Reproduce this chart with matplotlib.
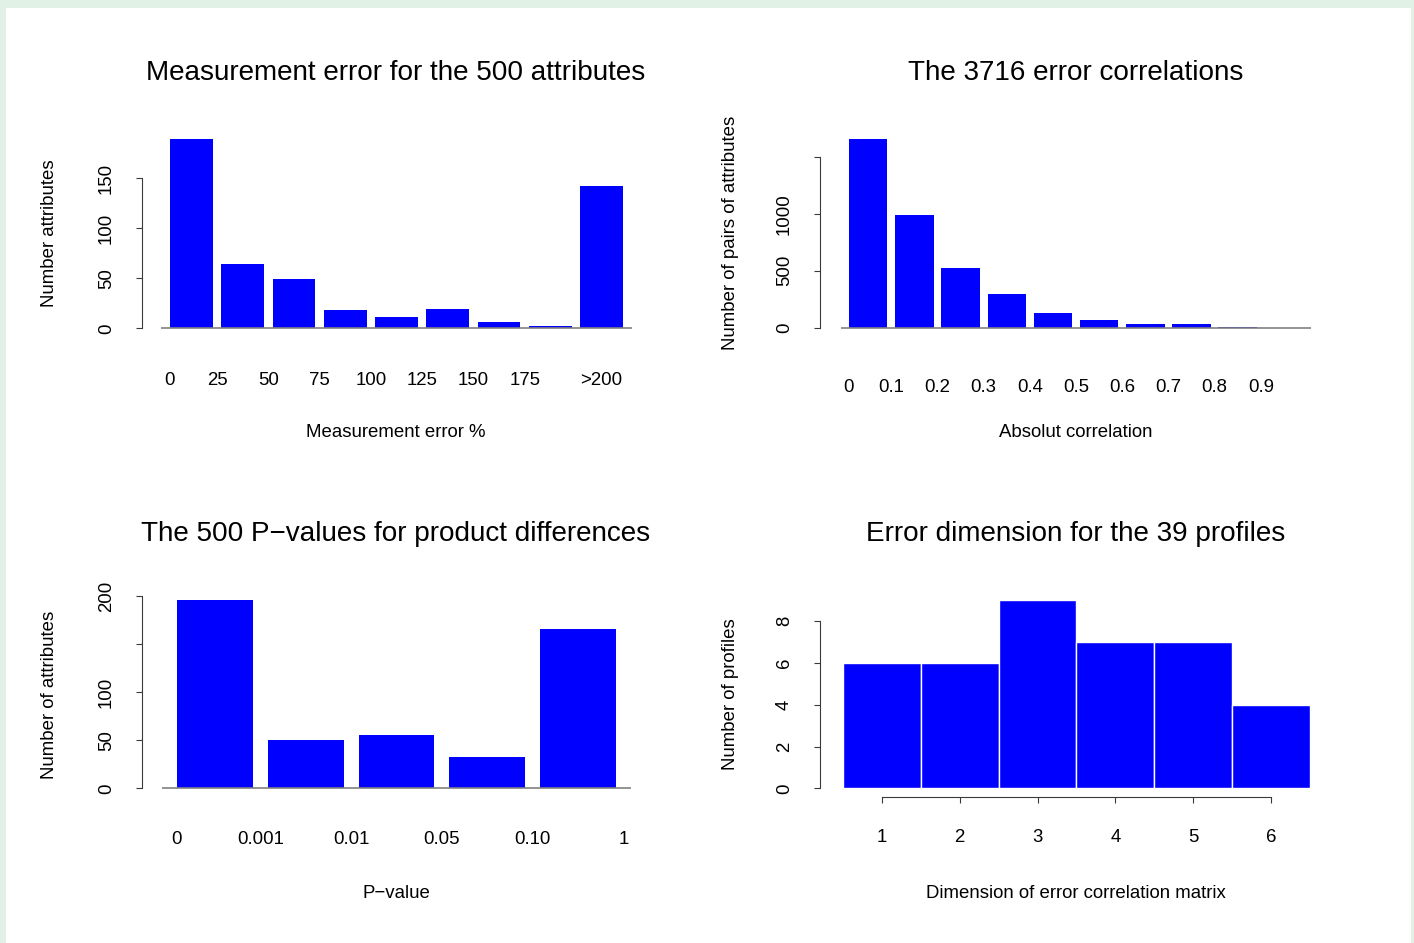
import matplotlib
matplotlib.use("Agg")
import matplotlib.pyplot as plt
from matplotlib.patches import Rectangle
from matplotlib.transforms import blended_transform_factory

plt.rcParams['font.family'] = ['Liberation Sans', 'DejaVu Sans']

# ---------------- data ----------------
err_labels = ["0", "25", "50", "75", "100", "125", "150", "175", ">200"]
err_counts = [189, 64, 49, 18, 11, 19, 6, 2, 142]

corr_labels = ["0", "0.1", "0.2", "0.3", "0.4", "0.5", "0.6", "0.7", "0.8", "0.9"]
corr_counts = [1655, 985, 520, 297, 130, 67, 35, 35, 6, 1]

p_labels = ["0", "0.001", "0.01", "0.05", "0.10", "1"]
p_counts = [196, 50, 55, 33, 166]

dim_labels = ["1", "2", "3", "4", "5", "6"]
dim_counts = [6, 6, 9, 7, 7, 4]

titles = ["Measurement error for the 500 attributes",
          "The 3716 error correlations",
          "The 500 P\u2212values for product differences",
          "Error dimension for the 39 profiles"]
xlabels = ["Measurement error %", "Absolut correlation", "P\u2212value",
           "Dimension of error correlation matrix"]
ylabels = ["Number attributes", "Number of pairs of attributes",
           "Number of attributes", "Number of profiles"]

# ---------------- figure ----------------
W, H = 1414, 943
DPI = 100
fig = plt.figure(figsize=(W / DPI, H / DPI), dpi=DPI, facecolor="#e2f1e6")
fig.patches.append(Rectangle((6 / W, 0), (1411 - 6) / W, (H - 8) / H,
                             transform=fig.transFigure, facecolor="white",
                             edgecolor="none", zorder=-10))

BLUE = "#0000ff"
AXC = "#3a3a3a"
FS = 13.4
FS_T = 20.1

def fy(px):
    return 1 - px / H

def fx(px):
    return px / W

def make_ax(L, R, y0px, pxper, ylim, xlim):
    B = y0px - ylim[0] * pxper
    T = y0px - ylim[1] * pxper
    ax = fig.add_axes([L / W, 1 - B / H, (R - L) / W, (B - T) / H])
    ax.set_zorder(5)
    ax.set_xlim(*xlim)
    ax.set_ylim(*ylim)
    ax.patch.set_visible(False)
    for s in ["top", "right", "bottom"]:
        ax.spines[s].set_visible(False)
    ax.spines["left"].set_color(AXC)
    ax.spines["left"].set_linewidth(0.8)
    ax.set_xticks([])
    return ax

def yaxis(ax, ticks, labels, axis_px):
    ax.spines["left"].set_bounds(ticks[0], ticks[-1])
    ax.set_yticks(ticks)
    ax.set_yticklabels([])
    ax.tick_params(axis="y", direction="out", length=4, width=0.8, color=AXC)
    tr = blended_transform_factory(fig.transFigure, ax.transData)
    for t, lab in zip(ticks, labels):
        if lab:
            ax.text(fx(axis_px - 31), t, lab, transform=tr, rotation=90,
                    rotation_mode="anchor", ha="center", va="baseline",
                    fontsize=FS, color="black", clip_on=False)

def xtexts(ax, xs, labels, base_px):
    tr = blended_transform_factory(ax.transData, fig.transFigure)
    for x, lab in zip(xs, labels):
        ax.text(x, fy(base_px), lab, transform=tr, ha="center", va="baseline",
                fontsize=FS, clip_on=False)

def decorate(cx, title_base, xlab_base, ylab_x, ylab_y, i):
    fig.text(fx(cx), fy(title_base), titles[i], ha="center", va="baseline",
             fontsize=FS_T)
    fig.text(fx(cx), fy(xlab_base), xlabels[i], ha="center", va="baseline",
             fontsize=FS)
    fig.text(fx(ylab_x), fy(ylab_y), ylabels[i], rotation=90,
             rotation_mode="anchor", ha="center", va="baseline", fontsize=FS)

# ---------- panel 1 ----------
ax1 = make_ax(142, 650, 328.3, 1.0, (-8, 195), (-0.455, 11.431))
n = len(err_counts)
lefts = [0.2 + 1.2 * i for i in range(n)]
ax1.bar(lefts, err_counts, width=1.0, align="edge", color=BLUE, edgecolor="none")
ax1.plot([0, 1.2 * n + 0.2], [0, 0], color="#808080", lw=1.2, zorder=5,
         clip_on=False, solid_capstyle="butt")
yaxis(ax1, [0, 50, 100, 150], ["0", "50", "100", "150"], 142)
pos1 = [0.2] + [0.1 + 1.2 * k for k in range(1, n - 1)] + [lefts[-1] + 0.5]
xtexts(ax1, pos1, err_labels, 385)
decorate(396, 80, 437, 54, 233, 0)

# ---------- panel 2 ----------
ax2 = make_ax(820, 1333, 327.7, 0.114, (-70, 1700), (-0.553, 12.775))
n = len(corr_counts)
lefts = [0.2 + 1.2 * i for i in range(n)]
ax2.bar(lefts, corr_counts, width=1.0, align="edge", color=BLUE, edgecolor="none")
ax2.plot([0, 1.2 * n + 0.2], [0, 0], color="#808080", lw=1.2, zorder=5,
         clip_on=False, solid_capstyle="butt")
yaxis(ax2, [0, 500, 1000, 1500], ["0", "500", "1000", ""], 820)
pos2 = [0.2] + [0.1 + 1.2 * k for k in range(1, n)]
xtexts(ax2, pos2, corr_labels, 392)
decorate(1076, 80, 437, 735, 233, 1)

# ---------- panel 3 ----------
ax3 = make_ax(142, 650, 788.3, 0.9617, (-9, 205), (-0.262, 6.449))
n = len(p_counts)
lefts = [0.2 + 1.2 * i for i in range(n)]
ax3.bar(lefts, p_counts, width=1.0, align="edge", color=BLUE, edgecolor="none")
ax3.plot([0, 1.2 * n + 0.2], [0, 0], color="#808080", lw=1.2, zorder=5,
         clip_on=False, solid_capstyle="butt")
yaxis(ax3, [0, 50, 100, 150, 200], ["0", "50", "100", "", "200"], 142)
pos3 = [0.2] + [0.1 + 1.2 * k for k in range(1, n + 1)]
xtexts(ax3, pos3, p_labels, 844)
decorate(396, 541, 898, 54, 695, 2)

# ---------- panel 4 ----------
ax4 = make_ax(820, 1333, 788.3, 20.9, (-0.42, 9.4), (-0.2955, 6.296))
n = len(dim_counts)
lefts = list(range(n))
ax4.bar(lefts, dim_counts, width=1.0, align="edge", color=BLUE,
        edgecolor="white", linewidth=1.0)
yaxis(ax4, [0, 2, 4, 6, 8], ["0", "2", "4", "6", "8"], 820)
centers = [l + 0.5 for l in lefts]
ax4.spines["bottom"].set_visible(True)
ax4.spines["bottom"].set_bounds(centers[0], centers[-1])
ax4.spines["bottom"].set_color(AXC)
ax4.spines["bottom"].set_linewidth(0.8)
ax4.set_xticks(centers)
ax4.set_xticklabels([])
ax4.tick_params(axis="x", direction="out", length=4, width=0.8, color=AXC)
xtexts(ax4, centers, dim_labels, 842)
decorate(1076, 541, 898, 735, 694, 3)

fig.savefig("out.png", dpi=DPI, facecolor=fig.get_facecolor())
